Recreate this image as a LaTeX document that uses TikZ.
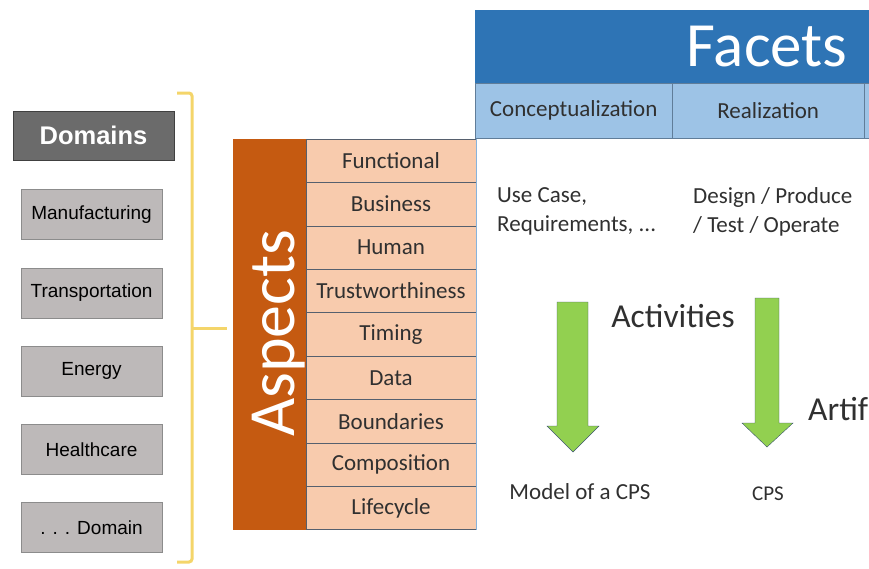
\documentclass[tikz,border=0pt]{standalone}
\usepackage{fontspec}
\setmainfont{Carlito}
\newfontfamily\arialfont{Liberation Sans}
\usepackage{xcolor}
\usetikzlibrary{positioning, calc}

\definecolor{facetblue}{HTML}{2E74B5}
\definecolor{facetlight}{HTML}{9DC3E6}
\definecolor{aspectorange}{HTML}{C55A11}
\definecolor{aspectpeach}{HTML}{F8CBAD}
\definecolor{aspectline}{HTML}{56606E}
\definecolor{arrowgreen}{HTML}{92D050}
\definecolor{bracketyellow}{HTML}{F4D56A}
\definecolor{domaingray}{HTML}{BDB9B9}
\definecolor{domaindark}{HTML}{6B6B6B}
\definecolor{textdark}{HTML}{303030}

\begin{document}
\begin{tikzpicture}[x=1pt, y=-1pt,
    domainbox/.style={draw=black!45, fill=domaingray, minimum width=141pt, minimum height=50pt, inner sep=0pt, font=\arialfont\fontsize{19}{22}\selectfont},
    aspectrow/.style={draw=aspectline, fill=aspectpeach, minimum width=170pt, minimum height=43.4pt, inner sep=0pt, text=textdark, font=\fontsize{23}{27}\selectfont},
    facetcell/.style={draw=facetblue!60!black!70, fill=facetlight, minimum height=55pt, inner sep=0pt, anchor=north west, text=textdark, font=\fontsize{23}{27}\selectfont},
    plaintext/.style={text=textdark, inner sep=0pt, font=\fontsize{23}{29}\selectfont}]
      \useasboundingbox (0,0) rectangle (869,568);

      % domains column
      \node[draw=black!75, fill=domaindark, minimum width=161pt, minimum height=49pt, text=white, font=\arialfont\bfseries\fontsize{25.5}{28}\selectfont] (domains) at (93.5,135.5) {Domains};
      \foreach \name [count=\i] in {Manufacturing, Transportation, Energy, Healthcare, {. . . Domain}}
        \node[domainbox] (domain\i) at (91.5, {214.5+78.25*(\i-1)}) {\name};

      % bracket
      \coordinate (brtop) at (192,93);
      \coordinate (brbot) at (192,562);
      \draw[bracketyellow, line width=3pt, rounded corners=3pt] (177,93) -- (brtop) -- (brbot) -- (177,562);
      \draw[bracketyellow, line width=3pt] (192,328) -- (227,328);

      % aspects
      \node[fill=aspectorange, minimum width=73pt, minimum height=391pt, inner sep=0pt] (aspects) at (269,334.5) {};
      \node[rotate=90, text=white, inner sep=0pt, font=\fontsize{66}{70}\selectfont] (aspectstitle) at (279,333) {Aspects};
      \foreach \name [count=\i] in {Functional, Business, Human, Trustworthiness, Timing, Data, Boundaries, Composition, Lifecycle}
        \node[aspectrow] (aspect\i) at (391, {139+43.4*(\i-0.5)}) {\name};
      \draw[facetlight!80!facetblue, line width=1pt] (aspects.north east -| aspect1.east) -- (aspects.south east -| aspect1.east);

      % facets
      \node[fill=facetblue, minimum width=400pt, minimum height=73pt, inner sep=0pt, anchor=north west] (facets) at (475,10) {};
      \node[text=white, inner sep=0pt, font=\fontsize{63}{66}\selectfont] (facetstitle) at (767,47) {Facets};
      \node[facetcell, minimum width=197pt] (concept) at (475,83) {Conceptualization};
      \node[facetcell, minimum width=192pt] (realize) at (672,83) {Realization};
      \node[facetcell, minimum width=20pt] (nextcell) at (864,83) {};

      % activities and artifacts
      \node[plaintext, anchor=west, align=left] (usecase) at (497,211.5) {Use Case,\\Requirements, ...};
      \node[plaintext, anchor=west, align=left] (design) at (693,211.5) {Design / Produce\\/ Test / Operate};
      \fill[arrowgreen, draw=arrowgreen!60!black!70!blue] (557,302) -- (588,302) -- (588,426) -- (599,426) -- (573,452) -- (547,426) -- (557,426) -- cycle;
      \fill[arrowgreen, draw=arrowgreen!60!black!70!blue] (755,298) -- (779,298) -- (779,423) -- (793,423) -- (767,447) -- (742,423) -- (755,423) -- cycle;
      \node[plaintext, font=\fontsize{33.5}{36}\selectfont] (activities) at (673,316) {Activities};
      \node[plaintext, anchor=west, font=\fontsize{33.5}{36}\selectfont] (artif) at (808,409) {Artif};
      \node[plaintext] (model) at (580,492) {Model of a CPS};
      \node[plaintext, font=\fontsize{21}{24}\selectfont] (cps) at (768,494) {CPS};
    \end{tikzpicture}
\end{document}
